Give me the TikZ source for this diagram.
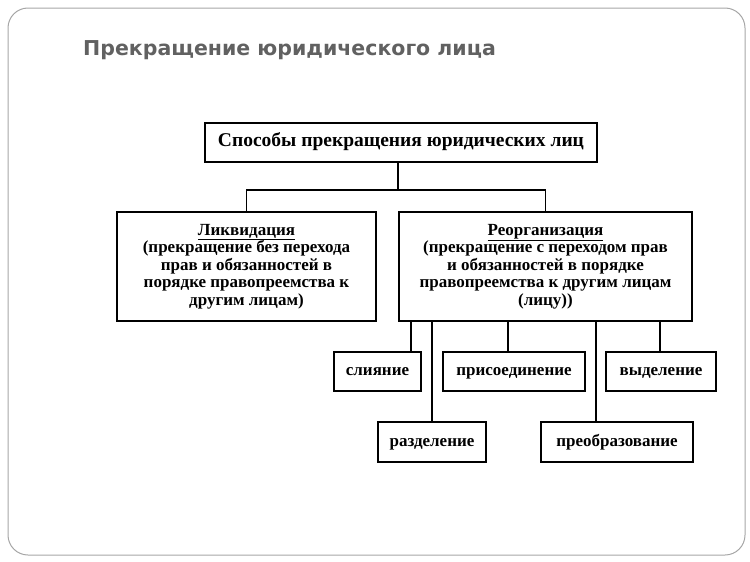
\documentclass[tikz,border=0pt]{standalone}
\usepackage{fontspec}
\setmainfont{Liberation Serif}
\newfontfamily\titlefont{DejaVu Sans}
\begin{document}
\begin{tikzpicture}[x=1pt,y=-1pt,
  box/.style={draw,line width=1.1pt,inner sep=0pt,font=\fontsize{17}{17.5}\selectfont\bfseries,align=center},
  sbox/.style={box,text height=11pt,text depth=3pt},
  ln/.style={line width=1.1pt}]
\useasboundingbox (0,0) rectangle (750,562);
\draw[rounded corners=20pt,draw=gray!70,line width=1pt] (8,8) rectangle (745,555);
\node[anchor=west,font=\titlefont\fontsize{20.5}{24}\selectfont\bfseries,text=black!62,inner sep=0pt] (title) at (83,50) {Прекращение юридического лица};
\node[sbox,font=\fontsize{19.5}{20}\selectfont\bfseries,minimum width=392pt,minimum height=39pt] (top) at (401,142.5) {Способы прекращения юридических лиц};
\node[box,minimum width=259pt,minimum height=109pt] (liq) at (246.5,266.5) {\underline{Ликвидация}\\(прекращение без перехода\\прав и обязанностей в\\порядке правопреемства к\\другим лицам)};
\node[box,minimum width=293pt,minimum height=109pt] (reo) at (545.5,266.5) {\underline{Реорганизация}\\(прекращение с переходом прав\\и обязанностей в порядке\\правопреемства к другим лицам\\(лицу))};
\node[sbox,minimum width=87pt,minimum height=39pt] (sl) at (377.5,371.5) {слияние};
\node[sbox,minimum width=142pt,minimum height=39pt] (pr) at (514,371.5) {присоединение};
\node[sbox,minimum width=110pt,minimum height=39pt] (vy) at (661,371.5) {выделение};
\node[sbox,minimum width=108pt,minimum height=40pt] (ra) at (432,442) {разделение};
\node[sbox,minimum width=152pt,minimum height=40pt] (pf) at (617,442) {преобразование};
\coordinate (j) at (398,190);
\draw[ln] (top.south -| j) -- (j);
\draw[ln] (liq.north) -- (liq.north |- j) -- (reo.north |- j) -- (reo.north);
\draw[ln] (reo.south -| 411,0) -- (sl.north -| 411,0);
\draw[ln] (reo.south -| ra.north) -- (ra.north);
\draw[ln] (reo.south -| 508,0) -- (pr.north -| 508,0);
\draw[ln] (reo.south -| 596,0) -- (pf.north -| 596,0);
\draw[ln] (reo.south -| 660,0) -- (vy.north -| 660,0);
\end{tikzpicture}
\end{document}
